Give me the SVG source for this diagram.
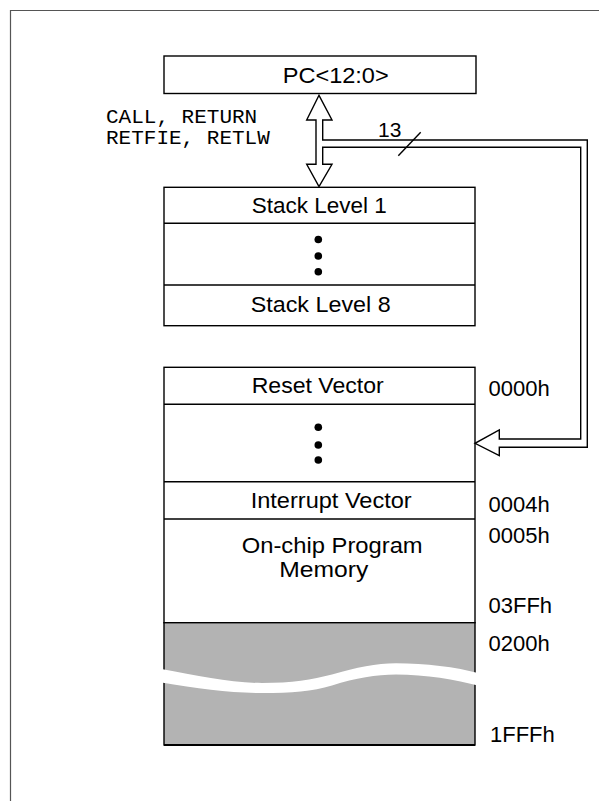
<svg xmlns="http://www.w3.org/2000/svg" width="599" height="801" viewBox="0 0 599 801">
<style>
.box{fill:#fff;stroke:#000;stroke-width:1.4}
.sep{stroke:#000;stroke-width:1.4}
.t{font-family:"Liberation Sans",Arial,sans-serif;font-size:22px;fill:#000}
.m{font-family:"Liberation Mono","Courier New",monospace;font-size:21px;fill:#000}
.conn{fill:#fff;stroke:#000;stroke-width:1.4;stroke-linejoin:miter}
.line{fill:none;stroke:#000;stroke-width:1.4}
</style>
<rect width="599" height="801" fill="#fff"/>
<path d="M10.5,801 V10.5 H599" fill="none" stroke="#555" stroke-width="1.2"/>

<g id="pc">
<rect class="box" x="164" y="56" width="312" height="37.5"/>
<text class="t" x="282.7" y="82.7" textLength="106" lengthAdjust="spacingAndGlyphs">PC&lt;12:0&gt;</text>
</g>

<g id="labels">
<text class="m" x="106" y="123.3">CALL, RETURN</text>
<text class="m" x="106" y="144.3">RETFIE, RETLW</text>
<text class="t" x="378" y="136.7" style="font-size:21px">13</text>
</g>

<g id="stack">
<rect class="box" x="164" y="187.3" width="311" height="138.4"/>
<line class="sep" x1="164" y1="223.3" x2="475" y2="223.3"/>
<line class="sep" x1="164" y1="285" x2="475" y2="285"/>
<text class="t" x="251.7" y="212.7" textLength="135" lengthAdjust="spacingAndGlyphs">Stack Level 1</text>
<circle cx="318.3" cy="239.5" r="3.8"/>
<circle cx="318.3" cy="256" r="3.8"/>
<circle cx="318.3" cy="271.7" r="3.8"/>
<text class="t" x="250.7" y="311.7" textLength="140" lengthAdjust="spacingAndGlyphs">Stack Level 8</text>
</g>

<g id="memory">
<rect class="box" x="164" y="367.3" width="311" height="255.4"/>
<line class="sep" x1="164" y1="404.3" x2="475" y2="404.3"/>
<line class="sep" x1="164" y1="481.7" x2="475" y2="481.7"/>
<line class="sep" x1="164" y1="519" x2="475" y2="519"/>
<text class="t" x="251.7" y="392.7" textLength="132" lengthAdjust="spacingAndGlyphs">Reset Vector</text>
<circle cx="318.3" cy="427.3" r="3.8"/>
<circle cx="318.3" cy="445" r="3.8"/>
<circle cx="318.3" cy="460" r="3.8"/>
<text class="t" x="250.7" y="508" textLength="161" lengthAdjust="spacingAndGlyphs">Interrupt Vector</text>
<text class="t" x="241.7" y="552.7" textLength="181" lengthAdjust="spacingAndGlyphs">On-chip Program</text>
<text class="t" x="279.3" y="576.7" textLength="89" lengthAdjust="spacingAndGlyphs">Memory</text>
</g>

<g id="unimplemented">
<rect x="164" y="622.7" width="311" height="122.3" fill="#b3b3b3" stroke="#000" stroke-width="1.4"/>
<line x1="164" y1="745" x2="475" y2="745" stroke="#000" stroke-width="2.2"/>
<path d="M160,668.8 C200,676 230,683 262,683 C292,683 312,679.5 332,674.5 C357,667.5 376,663.3 396,663.3 C426,663.3 455,667 480,673.5 L480,686 C455,679.5 426,674.5 396,674.5 C376,674.5 356,678 332,685.5 C312,691.5 292,693 262,693 C230,693 200,689 160,682.3 Z" fill="#fff"/>
</g>

<g id="addresses">
<text class="t" x="488.5" y="395.7">0000h</text>
<text class="t" x="488.5" y="511.7">0004h</text>
<text class="t" x="488.5" y="542.7">0005h</text>
<text class="t" x="488.5" y="613.3">03FFh</text>
<text class="t" x="488.5" y="650.7">0200h</text>
<text class="t" x="490" y="741.7">1FFFh</text>
</g>

<g id="connectors">
<path class="conn" d="M319,95.3 L332,120 L322.7,120 L322.7,140 L587.3,140 L587.3,447.3 L499.3,447.3 L499.3,455.7 L475,443.3 L499.3,430 L499.3,439 L580.7,439 L580.7,147.3 L322.7,147.3 L322.7,164.3 L332,164.3 L319,186.7 L306.7,164.3 L316,164.3 L316,120 L306.7,120 Z"/>
<line class="line" x1="398.3" y1="155.7" x2="420.7" y2="132.3"/>
</g>
</svg>
